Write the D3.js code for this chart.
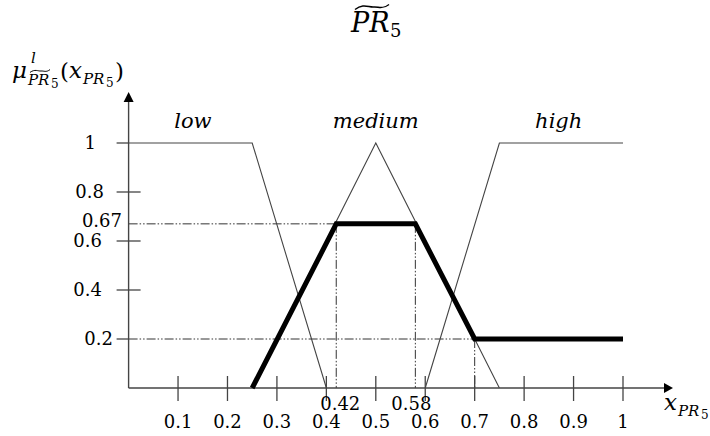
<!DOCTYPE html>
<html>
<head>
<meta charset="utf-8">
<script src="https://cdn.jsdelivr.net/npm/d3@7"></script>
<style>
  body { margin: 0; background: #fff; }
  svg { display: block; }
  text { font-family: "DejaVu Serif", serif; fill: #000; }
  .it { font-style: italic; }
</style>
</head>
<body>
<div id="chart"></div>
<script>
// data
var xTicks = [0.1, 0.2, 0.3, 0.4, 0.5, 0.6, 0.7, 0.8, 0.9, 1];
var yTicks = [0.2, 0.4, 0.6, 0.8, 1];
var yLabels = ["0.2", "0.4", "0.6", "0.8", "1", "0.67"];
var yLabelValues = [0.2, 0.4, 0.6, 0.8, 1, 0.67];

var lowX = [0, 0.25, 0.4],     lowY = [1, 1, 0];
var mediumX = [0.25, 0.5, 0.75], mediumY = [0, 1, 0];
var highX = [0.6, 0.75, 1],    highY = [0, 1, 1];
var outX = [0.25, 0.42, 0.58, 0.7, 1], outY = [0, 0.67, 0.67, 0.2, 0.2];

// points where the dash-dot guides meet the output
var guideX = [0.42, 0.58, 0.7];
var guideY = [0.67, 0.67, 0.2];
var extraXLabels = ["0.42", "0.58"];

var setNames = ["low", "medium", "high"];
var setNameX = [0.13, 0.5, 0.87];

var W = 710, H = 436;

var svg = d3.select("#chart").append("svg")
    .attr("width", W)
    .attr("height", H);

var x = d3.scaleLinear().domain([0, 1]).range([128.6, 623]);
var y = d3.scaleLinear().domain([0, 1]).range([388, 143]);

var zip = function(xs, ys) { return xs.map(function(v, i) { return [v, ys[i]]; }); };
var line = d3.line().x(function(d) { return x(d[0]); }).y(function(d) { return y(d[1]); });

var axisColor = "#444";

// dash-dot guides
var dash = "9,2,1.5,2,1.5,2";
[0, 2].forEach(function(i) {
  svg.append("line")
      .attr("x1", x(0)).attr("x2", x(guideX[i]))
      .attr("y1", y(guideY[i])).attr("y2", y(guideY[i]))
      .attr("stroke", "#333").attr("stroke-width", 1)
      .attr("stroke-dasharray", dash);
});
guideX.forEach(function(g, i) {
  svg.append("line")
      .attr("x1", x(g)).attr("x2", x(g))
      .attr("y1", y(guideY[i])).attr("y2", y(0))
      .attr("stroke", "#333").attr("stroke-width", 1)
      .attr("stroke-dasharray", dash);
});

// membership functions
[zip(lowX, lowY), zip(mediumX, mediumY), zip(highX, highY)].forEach(function(pts) {
  svg.append("path")
      .attr("d", line(pts))
      .attr("fill", "none")
      .attr("stroke", "#444")
      .attr("stroke-width", 1.1);
});

// axes
svg.append("line")
    .attr("x1", x(0)).attr("x2", 664)
    .attr("y1", y(0)).attr("y2", y(0))
    .attr("stroke", axisColor).attr("stroke-width", 1.4);
svg.append("path")
    .attr("d", "M664," + (y(0) - 5) + "L673," + y(0) + "L664," + (y(0) + 5) + "Z")
    .attr("fill", "#000");
svg.append("line")
    .attr("x1", x(0)).attr("x2", x(0))
    .attr("y1", y(0)).attr("y2", 101)
    .attr("stroke", axisColor).attr("stroke-width", 1.4);
svg.append("path")
    .attr("d", "M" + (x(0) - 5) + ",102L" + x(0) + ",92L" + (x(0) + 5) + ",102Z")
    .attr("fill", "#000");

// x ticks
svg.selectAll(".xt").data(xTicks).enter().append("line")
    .attr("x1", function(d) { return x(d); }).attr("x2", function(d) { return x(d); })
    .attr("y1", y(0) - 12).attr("y2", y(0) + 13)
    .attr("stroke", axisColor).attr("stroke-width", 1.3);
svg.selectAll(".xl").data(xTicks).enter().append("text")
    .attr("x", function(d) { return x(d); })
    .attr("y", 428)
    .attr("text-anchor", "middle")
    .attr("font-size", 18)
    .text(function(d) { return d3.format("")(d); });

// extra x labels
svg.append("text").attr("x", x(guideX[0]) + 4).attr("y", 410)
    .attr("text-anchor", "middle").attr("font-size", 18).text(extraXLabels[0]);
svg.append("text").attr("x", x(guideX[1]) - 4).attr("y", 410)
    .attr("text-anchor", "middle").attr("font-size", 18).text(extraXLabels[1]);

// y ticks
svg.selectAll(".yt").data(yTicks).enter().append("line")
    .attr("x1", x(0) - 12)
    .attr("x2", function(d) { return d == 0.2 || d == 1 ? x(0) : x(0) + 12; })
    .attr("y1", function(d) { return y(d); }).attr("y2", function(d) { return y(d); })
    .attr("stroke", axisColor).attr("stroke-width", 1.3);

var yLabelEnd = { "1": 96, "0.8": 104, "0.67": 122, "0.6": 102, "0.4": 102, "0.2": 113 };
yLabels.forEach(function(t, i) {
  svg.append("text")
      .attr("x", yLabelEnd[t])
      .attr("y", y(yLabelValues[i]) - (t == "0.67" ? 3 : 0))
      .attr("dy", "0.36em")
      .attr("text-anchor", "end")
      .attr("font-size", 18)
      .text(t);
});

// output (thick)
svg.append("path")
    .attr("d", line(zip(outX, outY)))
    .attr("fill", "none")
    .attr("stroke", "#000")
    .attr("stroke-width", 5)
    .attr("stroke-linejoin", "miter");

// set names
setNames.forEach(function(n, i) {
  svg.append("text")
      .attr("class", "it")
      .attr("x", x(setNameX[i]))
      .attr("y", 128)
      .attr("text-anchor", "middle")
      .attr("font-size", 21)
      .text(n);
});

// title  ~PR_5
var tildePath = function(x0, x1, yc, amp) {
  var w = x1 - x0;
  return "M" + x0 + "," + (yc + amp) +
    "C" + (x0 + w * 0.25) + "," + (yc - amp * 1.6) + " " + (x0 + w * 0.4) + "," + (yc + amp * 0.2) + " " + (x0 + w * 0.55) + "," + (yc) +
    "C" + (x0 + w * 0.7) + "," + (yc - amp * 0.2) + " " + (x0 + w * 0.8) + "," + (yc + amp * 1.2) + " " + x1 + "," + (yc - amp);
};
svg.append("text").attr("class", "it")
    .attr("x", 351).attr("y", 32).attr("font-size", 27).text("PR");
svg.append("text")
    .attr("x", 390).attr("y", 37).attr("font-size", 18).text("5");
svg.append("path").attr("d", tildePath(355, 389, 7, 2.5))
    .attr("fill", "none").attr("stroke", "#000").attr("stroke-width", 1.5);

// y label  mu^l_{~PR5}(x_{PR5})
svg.append("text").attr("class", "it").attr("x", 12).attr("y", 78).attr("font-size", 23).text("μ");
svg.append("text").attr("class", "it").attr("x", 31).attr("y", 63).attr("font-size", 15).text("l");
svg.append("text").attr("class", "it").attr("x", 28).attr("y", 85).attr("font-size", 15).text("PR");
svg.append("text").attr("x", 51).attr("y", 88).attr("font-size", 12).text("5");
svg.append("path").attr("d", tildePath(30, 50, 71, 1.4))
    .attr("fill", "none").attr("stroke", "#000").attr("stroke-width", 1);
svg.append("text").attr("x", 60).attr("y", 79).attr("font-size", 23).text("(");
svg.append("text").attr("class", "it").attr("x", 69).attr("y", 78).attr("font-size", 23).text("x");
svg.append("text").attr("class", "it").attr("x", 83).attr("y", 84).attr("font-size", 15).text("PR");
svg.append("text").attr("x", 106).attr("y", 87).attr("font-size", 12).text("5");
svg.append("text").attr("x", 115).attr("y", 79).attr("font-size", 23).text(")");

// x label  x_{PR5}
svg.append("text").attr("class", "it").attr("x", 664).attr("y", 410).attr("font-size", 23).text("x");
svg.append("text").attr("class", "it").attr("x", 678).attr("y", 416).attr("font-size", 15).text("PR");
svg.append("text").attr("x", 701).attr("y", 419).attr("font-size", 12).text("5");
</script>
</body>
</html>
